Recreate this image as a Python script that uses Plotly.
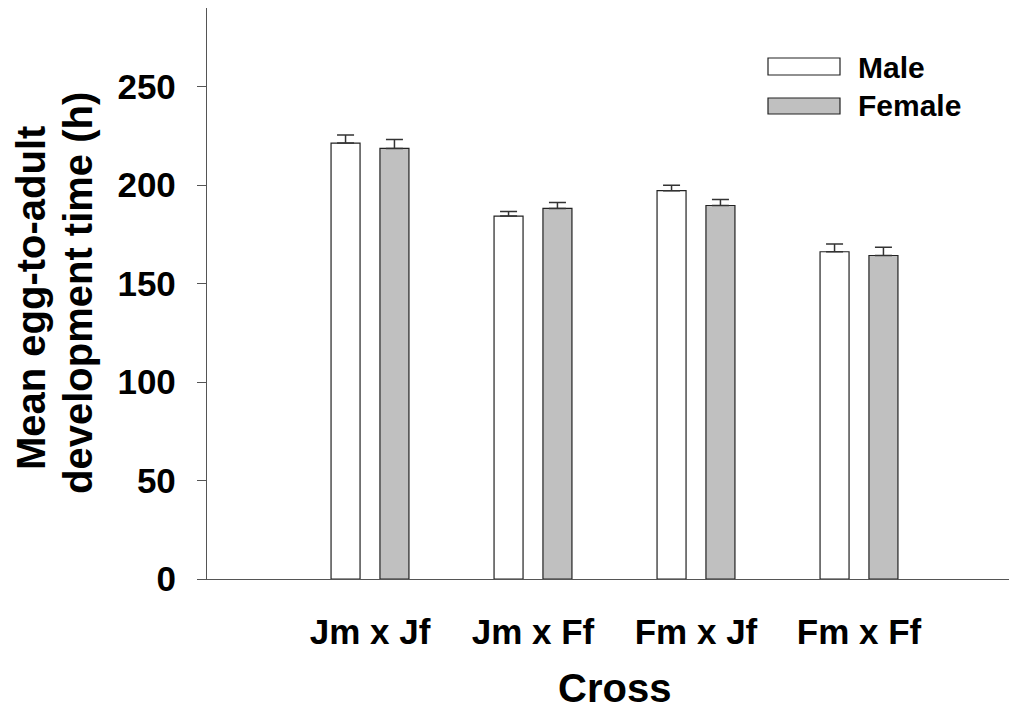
import plotly.graph_objects as go

categories = ["Jm x Jf", "Jm x Ff", "Fm x Jf", "Fm x Ff"]
male = [221.4, 184.3, 197.2, 166.2]
male_err = [4.1, 2.4, 2.8, 3.9]
female = [218.7, 188.2, 189.7, 164.3]
female_err = [4.5, 3.0, 3.0, 4.2]
y_ticks = [0, 50, 100, 150, 200, 250]

W, H = 1009, 711
L, T, R, B = 207, 8, 0, 132
PW, PH = W - L - R, H - T - B

def px(x):
    return (x - L) / PW

def py(y):
    return (H - B - y) / PH

FONT = "Liberation Sans, Arial, sans-serif"
edge = "#222222"

fig = go.Figure()
fig.add_trace(go.Bar(
    x=categories, y=male, name="Male",
    marker=dict(color="white", line=dict(color=edge, width=1.2)),
    error_y=dict(type="data", array=male_err, arrayminus=[0]*4, symmetric=False,
                 color="#333333", thickness=1.5, width=8.5),
    showlegend=False,
))
fig.add_trace(go.Bar(
    x=categories, y=female, name="Female",
    marker=dict(color="#c0c0c0", line=dict(color=edge, width=1.2)),
    error_y=dict(type="data", array=female_err, arrayminus=[0]*4, symmetric=False,
                 color="#333333", thickness=1.5, width=8.5),
    showlegend=False,
))

fig.update_layout(
    width=W, height=H,
    margin=dict(l=L, r=R, t=T, b=B, pad=0),
    paper_bgcolor="white", plot_bgcolor="white",
    barmode="group", bargap=0.4, bargroupgap=0.407,
    font=dict(family=FONT, color="black"),
    xaxis=dict(
        range=[-1, -1 + PW / 163.0], showline=True, linecolor="#555555", linewidth=1.3,
        ticks="", showgrid=False, zeroline=False,
        tickfont=dict(size=35, family=FONT, weight="bold"),
        ticklabelstandoff=22,
    ),
    yaxis=dict(
        range=[0, 290], showline=True, linecolor="#555555", linewidth=1.3,
        ticks="outside", ticklen=9, tickwidth=1.3, tickcolor="#555555",
        tickvals=y_ticks, showgrid=False, zeroline=False,
        tickfont=dict(size=35, family=FONT, weight="bold"),
        ticklabelstandoff=14,
    ),
)

# custom legend
leg = [("Male", "white", 58, 75, 67), ("Female", "#c0c0c0", 98, 114, 106)]
for name, col, y0, y1, yc in leg:
    fig.add_shape(type="rect", xref="paper", yref="paper",
                  x0=px(768), x1=px(840), y0=py(y1), y1=py(y0),
                  fillcolor=col, line=dict(color=edge, width=1.2))
    fig.add_annotation(text=name, xref="paper", yref="paper", x=px(856), y=py(yc),
                       xanchor="left", yanchor="middle", showarrow=False,
                       font=dict(size=30, family=FONT, weight="bold", color="black"))

# axis titles
fig.add_annotation(text="Cross", xref="paper", yref="paper", x=px(614), y=py(688),
                   xanchor="center", yanchor="middle", showarrow=False,
                   font=dict(size=40, family=FONT, weight="bold", color="black"))
fig.add_annotation(text="Mean egg-to-adult", xref="paper", yref="paper", x=px(31), y=py(298),
                   xanchor="center", yanchor="middle", showarrow=False, textangle=-90,
                   font=dict(size=40, family=FONT, weight="bold", color="black"))
fig.add_annotation(text="development time (h)", xref="paper", yref="paper", x=px(78), y=py(293),
                   xanchor="center", yanchor="middle", showarrow=False, textangle=-90,
                   font=dict(size=40, family=FONT, weight="bold", color="black"))

fig.write_html("out.html")
